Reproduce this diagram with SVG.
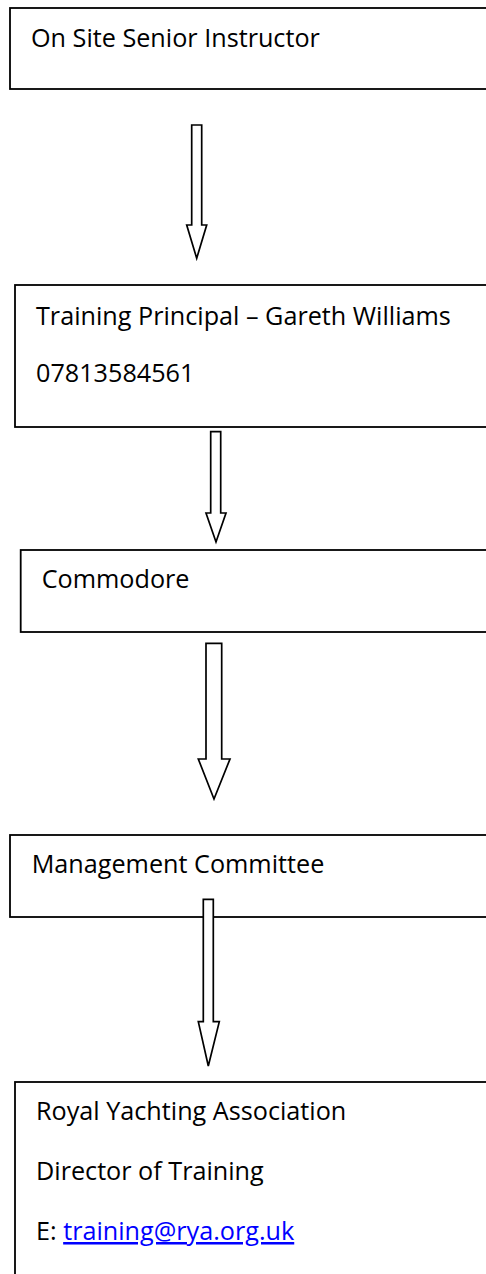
<svg xmlns="http://www.w3.org/2000/svg" width="486" height="1274" viewBox="0 0 486 1274">
<style>
.box{fill:#fff;stroke:#000;stroke-width:1.8}
.t{font-family:"Open Sans","Liberation Sans",sans-serif;font-size:25.2px;fill:#000}
.link{fill:#0000ff;text-decoration:underline}
.arrow{fill:#fff;stroke:#000;stroke-width:1.7;stroke-linejoin:miter}
</style>
<rect width="486" height="1274" fill="#fff"/>
<g id="node-senior-instructor">
<rect class="box" x="10" y="8" width="500" height="81"/>
<text class="t" x="31" y="47">On Site Senior Instructor</text>
</g>
<g id="node-training-principal">
<rect class="box" x="15" y="285" width="500" height="142"/>
<text class="t" x="36" y="325">Training Principal – Gareth Williams</text>
<text class="t" x="36" y="382">07813584561</text>
</g>
<g id="node-commodore">
<rect class="box" x="20.7" y="550" width="500" height="82"/>
<text class="t" x="41.7" y="588">Commodore</text>
</g>
<g id="node-management-committee">
<rect class="box" x="10" y="835" width="500" height="82"/>
<text class="t" x="31.7" y="873">Management Committee</text>
</g>
<g id="node-rya">
<rect class="box" x="15" y="1082" width="500" height="220"/>
<text class="t" x="36" y="1120">Royal Yachting Association</text>
<text class="t" x="36" y="1180">Director of Training</text>
<text class="t" x="36" y="1240">E: <tspan class="link">training@rya.org.uk</tspan></text>
</g>
<g id="connectors">
<polygon class="arrow" points="191.7,125 201.7,125 201.7,225 206.7,225 196.7,258.3 186.7,225 191.7,225"/>
<polygon class="arrow" points="210.7,431.7 220.7,431.7 220.7,513 226,513 216,542 206,513 210.7,513"/>
<polygon class="arrow" points="206,643.3 221.7,643.3 221.7,759 230,759 214,799 198.3,759 206,759"/>
<polygon class="arrow" points="203.3,899.3 213.3,899.3 213.3,1021.7 219.3,1021.7 208.3,1066 198.3,1021.7 203.3,1021.7"/>
</g>
</svg>
